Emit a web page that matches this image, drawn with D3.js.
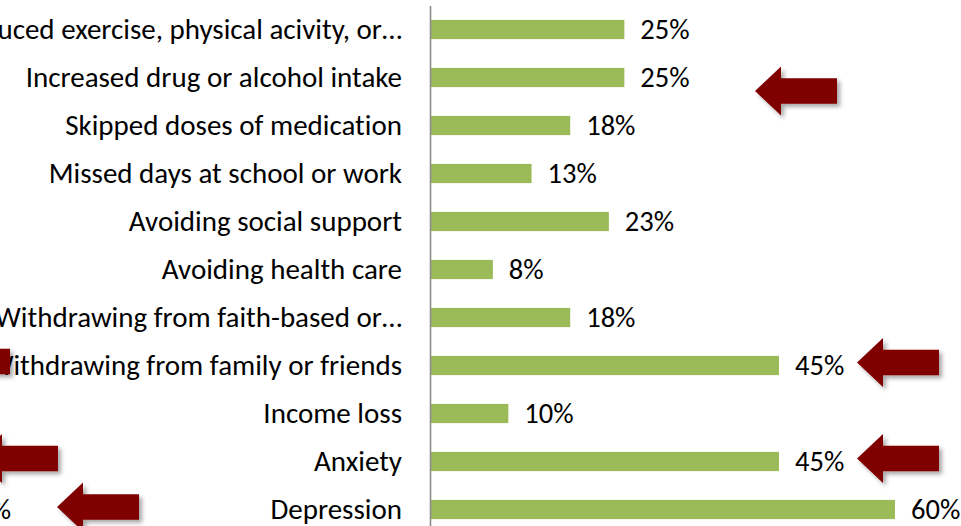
<!DOCTYPE html>
<html lang="en">
  <head>
    <meta charset="UTF-8" />
    <title>Coping behaviours</title>
    <script src="https://cdn.jsdelivr.net/npm/d3@7"></script>
    <style>
      body {
        margin: 0;
        background: #fff;
      }
      svg {
        display: block;
      }
      svg text {
        font-family: Carlito, Calibri, Lato, "Liberation Sans", sans-serif;
        font-variant-ligatures: none;
      }
      .axis path {
        stroke: #8c8c8c;
        stroke-width: 1.6px;
      }
      .axis text {
        font-size: 29px;
        fill: #000;
      }
      .bar {
        fill: #9bbb59;
      }
      .value {
        font-size: 28.5px;
        fill: #000;
      }
      .arrow {
        fill: #800000;
      }
    </style>
  </head>
  <body>
    <div id="chart"></div>
    <script>
      // categories, top to bottom
      var categories = [
        "Reduced exercise, physical acivity, or…",
        "Increased drug or alcohol intake",
        "Skipped doses of medication",
        "Missed days at school or work",
        "Avoiding social support",
        "Avoiding health care",
        "Withdrawing from faith-based or…",
        "Withdrawing from family or friends",
        "Income loss",
        "Anxiety",
        "Depression"
      ];
      // percent of respondents
      var values = [25, 25, 18, 13, 23, 8, 18, 45, 10, 45, 60];

      // highlight arrows (tip x in px, attached to a row, small vertical nudge)
      var arrows = [
        { row: "Increased drug or alcohol intake", tip: 755, dy: 13.5 },
        { row: "Withdrawing from family or friends", tip: 857, dy: -3 },
        { row: "Anxiety", tip: 857, dy: -3 },
        // leftovers of the neighbouring panel, cut by the frame
        { row: "Withdrawing from family or friends", tip: -72, dy: -4 },
        { row: "Anxiety", tip: -24, dy: -3 },
        { row: "Depression", tip: 57, dy: -2.5 }
      ];

      var W = 961,
        H = 526;
      var margin = { top: 5.5, left: 430 };

      var svg = d3
        .select("#chart")
        .append("svg")
        .attr("width", W)
        .attr("height", H);

      var defs = svg.append("defs");
      var shadow = defs
        .append("filter")
        .attr("id", "shadow")
        .attr("x", "-20%")
        .attr("y", "-20%")
        .attr("width", "150%")
        .attr("height", "160%");
      shadow
        .append("feDropShadow")
        .attr("dx", 3)
        .attr("dy", 3)
        .attr("stdDeviation", 2)
        .attr("flood-color", "#000")
        .attr("flood-opacity", 0.35);

      var x = d3.scaleLinear().domain([0, 60]).range([1, 465]);
      var y = d3
        .scaleBand()
        .domain(categories)
        .range([0, 528])
        .paddingInner(0.6)
        .paddingOuter(0.3);

      var g = svg
        .append("g")
        .attr("transform", "translate(" + margin.left + "," + margin.top + ")");

      var data = categories.map(function (c, i) {
        return { cat: c, value: values[i] };
      });

      g.selectAll(".bar")
        .data(data)
        .enter()
        .append("rect")
        .attr("class", "bar")
        .attr("x", x(0))
        .attr("y", (d) => y(d.cat))
        .attr("width", (d) => x(d.value) - x(0))
        .attr("height", y.bandwidth());

      g.selectAll(".value")
        .data(data)
        .enter()
        .append("text")
        .attr("class", "value")
        .attr("x", (d) => x(d.value) + 16)
        .attr("y", (d) => y(d.cat) + y.bandwidth() / 2)
        .attr("dy", "0.34em")
        .text((d) => d.value + "%");

      g.append("g")
        .attr("class", "axis")
        .call(d3.axisLeft(y).tickSize(0).tickPadding(28))
        .selectAll("text")
        .attr("dy", "0.34em");

      // stray value label of the panel on the left
      g.append("text")
        .attr("class", "value")
        .attr("x", 11 - margin.left)
        .attr("y", y("Depression") + y.bandwidth() / 2)
        .attr("dy", "0.34em")
        .attr("text-anchor", "end")
        .text("%");

      // block arrow pointing left: length 82, head 26
      var arrowPath = function (tip, cy) {
        var len = 82,
          head = 26,
          hh = 24.5,
          sh = 12.7;
        return d3.line()([
          [tip, cy],
          [tip + head, cy - hh],
          [tip + head, cy - sh],
          [tip + len, cy - sh],
          [tip + len, cy + sh],
          [tip + head, cy + sh],
          [tip + head, cy + hh]
        ]) + "Z";
      };

      g.selectAll(".arrow")
        .data(arrows)
        .enter()
        .append("path")
        .attr("class", "arrow")
        .attr("filter", "url(#shadow)")
        .attr("d", (d) =>
          arrowPath(d.tip - margin.left, y(d.row) + y.bandwidth() / 2 + d.dy)
        );
    </script>
  </body>
</html>
